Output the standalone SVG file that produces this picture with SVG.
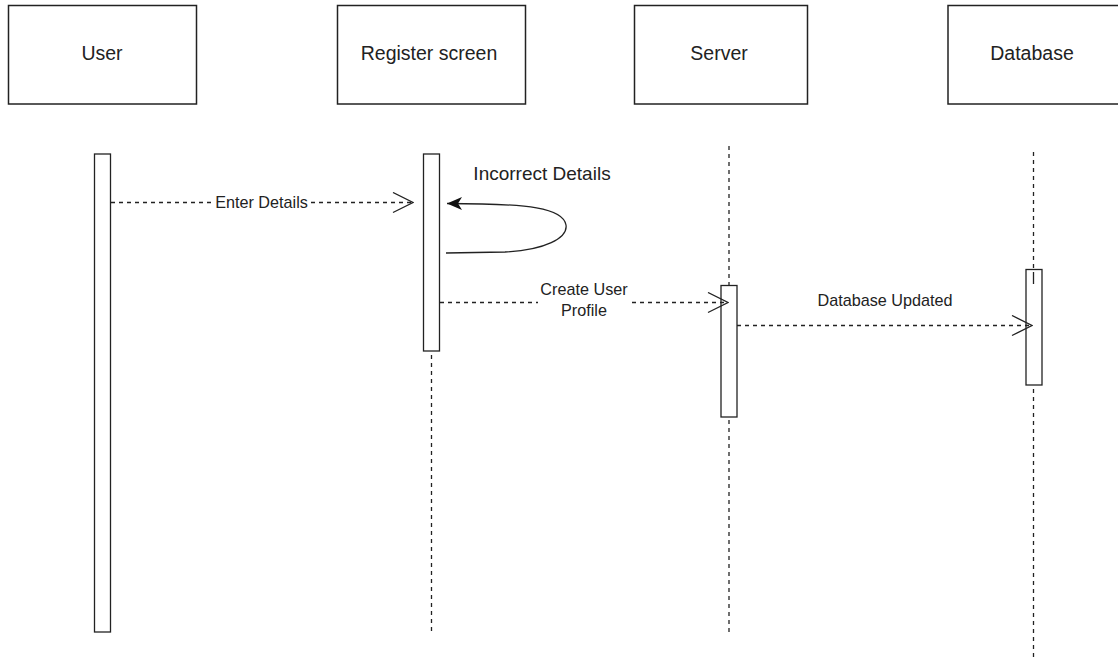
<svg xmlns="http://www.w3.org/2000/svg" width="1118" height="657" viewBox="0 0 1118 657">
  <style>
    .box { fill: #fff; stroke: #222; stroke-width: 1.5; }
    .act { fill: #fff; stroke: #222; stroke-width: 1.3; }
    .life { fill: none; stroke: #222; stroke-width: 1.3; stroke-dasharray: 4 4; }
    .msg { fill: none; stroke: #222; stroke-width: 1.3; stroke-dasharray: 4 4; marker-end: url(#open); }
    .self { fill: none; stroke: #222; stroke-width: 1.3; marker-end: url(#dart); }
    .title { font-family: "Liberation Sans", Arial, sans-serif; font-size: 19.5px; fill: #222; text-anchor: middle; }
    .lbl { font-family: "Liberation Sans", Arial, sans-serif; font-size: 16.2px; fill: #222; text-anchor: middle; }
    .lbl-lg { font-family: "Liberation Sans", Arial, sans-serif; font-size: 19px; fill: #222; text-anchor: middle; }
    .mask { fill: #fff; }
  </style>
  <defs>
    <!-- open chevron for asynchronous (dashed) messages -->
    <marker id="open" markerUnits="userSpaceOnUse" viewBox="0 0 22 22" markerWidth="22" markerHeight="22" refX="21" refY="11" orient="auto">
      <path d="M1,1 L21,11 L1,21" fill="none" stroke="#222" stroke-width="1.3"/>
    </marker>
    <!-- filled dart for the self-call -->
    <marker id="dart" markerUnits="userSpaceOnUse" viewBox="0 0 16 13" markerWidth="16" markerHeight="13" refX="15" refY="6.5" orient="auto">
      <path d="M0,0 L15,6.5 L0,13 L4,6.5 Z" fill="#111" stroke="none"/>
    </marker>
  </defs>

  <rect width="1118" height="657" fill="#fff"/>

  <!-- participant: User -->
  <g id="user">
    <rect class="box" x="8.5" y="5.5" width="188" height="98.5"/>
    <text class="title" x="102" y="60">User</text>
    <rect class="act" x="94.5" y="154" width="16" height="478"/>
  </g>

  <!-- participant: Register screen -->
  <g id="register-screen">
    <rect class="box" x="337.5" y="5.5" width="188" height="98.5"/>
    <text class="title" x="429" y="60">Register screen</text>
    <line class="life" x1="431.5" y1="355" x2="431.5" y2="632"/>
    <rect class="act" x="423.5" y="154" width="16" height="197"/>
  </g>

  <!-- participant: Server -->
  <g id="server">
    <rect class="box" x="634.5" y="5.5" width="173" height="98.5"/>
    <text class="title" x="719" y="60">Server</text>
    <line class="life" x1="729" y1="146" x2="729" y2="285"/>
    <line class="life" x1="729" y1="420" x2="729" y2="632"/>
    <rect class="act" x="721" y="285.5" width="16" height="131.5"/>
  </g>

  <!-- participant: Database -->
  <g id="database">
    <rect class="box" x="948" y="5.5" width="173" height="98.5"/>
    <text class="title" x="1032" y="60">Database</text>
    <line class="life" x1="1033.5" y1="152" x2="1033.5" y2="269"/>
    <line class="life" x1="1033.5" y1="389" x2="1033.5" y2="657"/>
    <rect class="act" x="1026" y="269.5" width="16" height="115.5"/>
    <line x1="1033.5" y1="272" x2="1033.5" y2="284" stroke="#222" stroke-width="1.3"/>
  </g>

  <!-- messages -->
  <g id="connectors">
    <line class="msg" x1="111" y1="202.5" x2="413" y2="202.5"/>
    <path class="self" d="M446,253 L505,252 C545,250 568,238 566,225 C563,208 530,203.5 447,203.5"/>
    <line class="msg" x1="440" y1="302.5" x2="728" y2="302.5"/>
    <line class="msg" x1="737" y1="325.5" x2="1032" y2="325.5"/>

    <rect class="mask" x="212" y="192" width="99" height="20"/>
    <text class="lbl" x="261.5" y="207.5">Enter Details</text>

    <text class="lbl-lg" x="542" y="180">Incorrect Details</text>

    <rect class="mask" x="538" y="279" width="91" height="42"/>
    <text class="lbl" x="584" y="295">Create User</text>
    <text class="lbl" x="584" y="316">Profile</text>

    <text class="lbl" x="885" y="306">Database Updated</text>
  </g>
</svg>
